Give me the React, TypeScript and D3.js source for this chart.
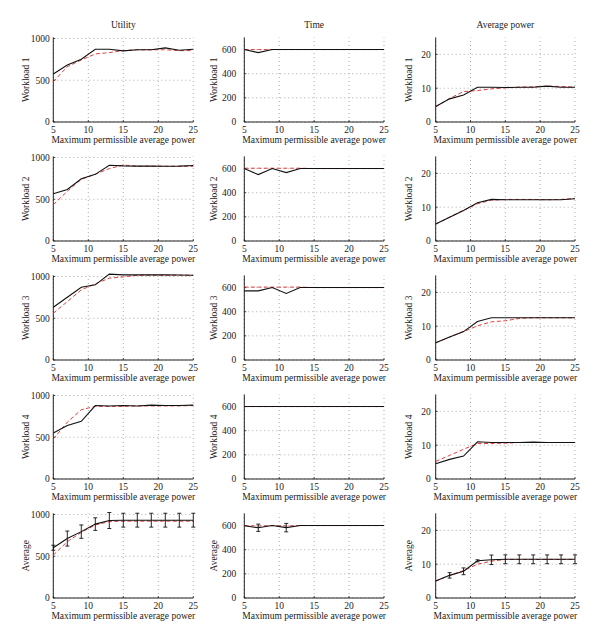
import React from "react";
import * as d3 from "d3";

const X = [5, 7, 9, 11, 13, 15, 17, 19, 21, 23, 25];
const columnTitles = ["Utility", "Time", "Average power"];
const rowLabels = ["Workload 1", "Workload 2", "Workload 3", "Workload 4", "Average"];
const xTicks = [5, 10, 15, 20, 25];
const xLabel = "Maximum permissible average power";

const utilityTicks = [0, 500, 1000];
const timeTicks = [0, 200, 400, 600];
const powerTicks = [0, 10, 20];

// Utility
const u1Black = [575, 683, 752, 872, 872, 852, 865, 865, 888, 860, 872];
const u1Red = [482, 663, 743, 815, 831, 855, 865, 865, 865, 855, 855];
const u2Black = [565, 617, 746, 798, 907, 900, 897, 897, 895, 897, 905];
const u2Red = [435, 596, 738, 800, 867, 910, 895, 895, 895, 895, 895];
const u3Black = [632, 752, 872, 900, 1028, 1020, 1020, 1020, 1020, 1018, 1015];
const u3Red = [560, 700, 840, 912, 980, 995, 1015, 1015, 1015, 1015, 1015];
const u4Black = [550, 640, 690, 880, 875, 880, 875, 885, 880, 880, 885];
const u4Red = [480, 680, 830, 870, 870, 870, 875, 875, 875, 875, 880];
const uAvgBlack = [602, 712, 795, 885, 928, 932, 932, 932, 932, 932, 932];
const uAvgRed = [514, 675, 786, 875, 915, 920, 920, 920, 920, 920, 920];
const uAvgErr = [30, 90, 80, 75, 96, 83, 83, 83, 83, 83, 83];

// Time
const t1Black = [600, 575, 600, 600, 600, 600, 600, 600, 600, 600, 600];
const t1Red = [600, 600, 600, 600, 600, 600, 600, 600, 600, 600, 600];
const t2Black = [600, 550, 600, 567, 600, 600, 600, 600, 600, 600, 600];
const t2Red = [603, 603, 603, 603, 603, 600, 600, 600, 600, 600, 600];
const t3Black = [573, 573, 600, 551, 600, 600, 600, 600, 600, 600, 600];
const t3Red = [604, 604, 604, 604, 604, 600, 600, 600, 600, 600, 600];
const t4Black = [600, 600, 600, 600, 600, 600, 600, 600, 600, 600, 600];
const t4Red = [600, 600, 600, 600, 600, 600, 600, 600, 600, 600, 600];
const tAvgBlack = [598, 582, 600, 583, 600, 600, 600, 600, 600, 600, 600];
const tAvgRed = [600, 596, 600, 597, 600, 600, 600, 600, 600, 600, 600];
const tAvgErr = [0, 30, 0, 35, 0, 0, 0, 0, 0, 0, 0];

// Average power
const p1Black = [4.6, 6.85, 8.0, 10.3, 10.3, 10.2, 10.3, 10.3, 10.6, 10.3, 10.3];
const p1Red = [4.5, 7.0, 9.0, 9.3, 9.8, 10.1, 10.3, 10.4, 10.6, 10.5, 10.3];
const p2Black = [5.0, 7.0, 9.0, 11.3, 12.3, 12.2, 12.2, 12.2, 12.2, 12.2, 12.5];
const p2Red = [5.0, 7.1, 9.1, 11.0, 12.1, 12.3, 12.3, 12.3, 12.2, 12.3, 12.6];
const p3Black = [5.1, 6.8, 8.4, 11.4, 12.5, 12.5, 12.5, 12.5, 12.5, 12.5, 12.5];
const p3Red = [5.1, 6.8, 8.4, 10.1, 11.3, 11.6, 12.3, 12.5, 12.5, 12.5, 12.5];
const p4Black = [4.5, 5.8, 6.8, 11.0, 10.8, 10.8, 10.8, 10.9, 10.8, 10.8, 10.8];
const p4Red = [5.2, 7.0, 8.8, 10.5, 10.5, 10.6, 10.8, 10.8, 10.8, 10.8, 10.8];
const pAvgBlack = [5.0, 6.7, 7.9, 11.0, 11.3, 11.45, 11.45, 11.45, 11.45, 11.45, 11.45];
const pAvgRed = [5.0, 6.7, 8.1, 10.0, 10.9, 11.4, 11.4, 11.4, 11.4, 11.4, 11.4];
const pAvgErr = [0, 0.8, 1.0, 0.3, 1.4, 1.3, 1.3, 1.3, 1.3, 1.3, 1.3];

type Panel = { black: number[]; red: number[]; err?: number[] };

const grid: Panel[][] = [
  [{ black: u1Black, red: u1Red }, { black: t1Black, red: t1Red }, { black: p1Black, red: p1Red }],
  [{ black: u2Black, red: u2Red }, { black: t2Black, red: t2Red }, { black: p2Black, red: p2Red }],
  [{ black: u3Black, red: u3Red }, { black: t3Black, red: t3Red }, { black: p3Black, red: p3Red }],
  [{ black: u4Black, red: u4Red }, { black: t4Black, red: t4Red }, { black: p4Black, red: p4Red }],
  [
    { black: uAvgBlack, red: uAvgRed, err: uAvgErr },
    { black: tAvgBlack, red: tAvgRed, err: tAvgErr },
    { black: pAvgBlack, red: pAvgRed, err: pAvgErr },
  ],
];

const colCfg = [
  { left: 53.3, width: 140, yMax: 1012, ticks: utilityTicks, tickGap: 3.5, labelX: 27 },
  { left: 244.3, width: 139.7, yMax: 700, ticks: timeTicks, tickGap: 8, labelX: 215 },
  { left: 435.7, width: 139.3, yMax: 25, ticks: powerTicks, tickGap: 5, labelX: 410 },
];
const plotH = 84.5;
const rowZero = (r: number) => 122 + 119 * r;

const FONT = "'Liberation Serif', 'DejaVu Serif', serif";
const RED = "#e02828";

export default function App() {
  return (
    <svg
      width={600}
      height={642}
      style={{ position: "absolute", left: 0, top: 0, background: "#fff" }}
      fontFamily={FONT}
    >
      <rect width={600} height={642} fill="#fff" />
      {colCfg.map((c, ci) => (
        <text key={"t" + ci} x={c.left + c.width / 2} y={28} fontSize={9.5} textAnchor="middle" fill="#222">
          {columnTitles[ci]}
        </text>
      ))}
      {grid.map((row, ri) =>
        row.map((p, ci) => {
          const c = colCfg[ci];
          const y0 = rowZero(ri);
          const x = d3.scaleLinear().domain([5, 25]).range([c.left, c.left + c.width]);
          const y = d3.scaleLinear().domain([0, c.yMax]).range([y0, y0 - plotH]);
          const line = d3
            .line<number>()
            .x((_, i) => x(X[i]))
            .y((v) => y(v));
          return (
            <g key={ri + "-" + ci}>
              {/* grid */}
              {xTicks.map((t) => (
                <line key={"gx" + t} x1={x(t)} x2={x(t)} y1={y0} y2={y0 - plotH} stroke="#888" strokeWidth={0.7} strokeDasharray="1,3" />
              ))}
              {c.ticks.map((t) => (
                <line key={"gy" + t} x1={c.left} x2={c.left + c.width} y1={y(t)} y2={y(t)} stroke="#888" strokeWidth={0.7} strokeDasharray="1,3" />
              ))}
              {/* axes */}
              <line x1={c.left} x2={c.left} y1={y0} y2={y0 - plotH} stroke="#222" strokeWidth={1} />
              <line x1={c.left} x2={c.left + c.width} y1={y0} y2={y0} stroke="#222" strokeWidth={1} />
              {xTicks.map((t) => (
                <g key={"xt" + t}>
                  <line x1={x(t)} x2={x(t)} y1={y0} y2={y0 - 2} stroke="#222" strokeWidth={0.8} />
                  <text x={x(t)} y={y0 + 10.5} fontSize={9.5} textAnchor="middle" fill="#222">
                    {t}
                  </text>
                </g>
              ))}
              {c.ticks.map((t) => (
                <g key={"yt" + t}>
                  <line x1={c.left} x2={c.left + 2} y1={y(t)} y2={y(t)} stroke="#222" strokeWidth={0.8} />
                  <text x={c.left - c.tickGap} y={y(t) + 3.3} fontSize={9.5} textAnchor="end" fill="#222">
                    {t}
                  </text>
                </g>
              ))}
              <text x={c.left + c.width / 2} y={y0 + 20.5} fontSize={9.5} textAnchor="middle" fill="#222">
                {xLabel}
              </text>
              <text
                transform={`translate(${c.labelX},${y0 - plotH / 2}) rotate(-90)`}
                fontSize={9.5}
                textAnchor="middle"
                dominantBaseline="middle"
                fill="#222"
              >
                {rowLabels[ri]}
              </text>
              {/* series */}
              <path d={line(p.red) || ""} fill="none" stroke={RED} strokeWidth={0.9} strokeDasharray="4,2.5" />
              <path d={line(p.black) || ""} fill="none" stroke="#111" strokeWidth={1.1} />
              {p.err &&
                p.err.map((e, i) =>
                  e > 0 ? (
                    <g key={"e" + i} stroke="#111" strokeWidth={0.9}>
                      <line x1={x(X[i])} x2={x(X[i])} y1={y(p.black[i] - e)} y2={y(p.black[i] + e)} />
                      <line x1={x(X[i]) - 2} x2={x(X[i]) + 2} y1={y(p.black[i] - e)} y2={y(p.black[i] - e)} />
                      <line x1={x(X[i]) - 2} x2={x(X[i]) + 2} y1={y(p.black[i] + e)} y2={y(p.black[i] + e)} />
                    </g>
                  ) : null
                )}
            </g>
          );
        })
      )}
    </svg>
  );
}
